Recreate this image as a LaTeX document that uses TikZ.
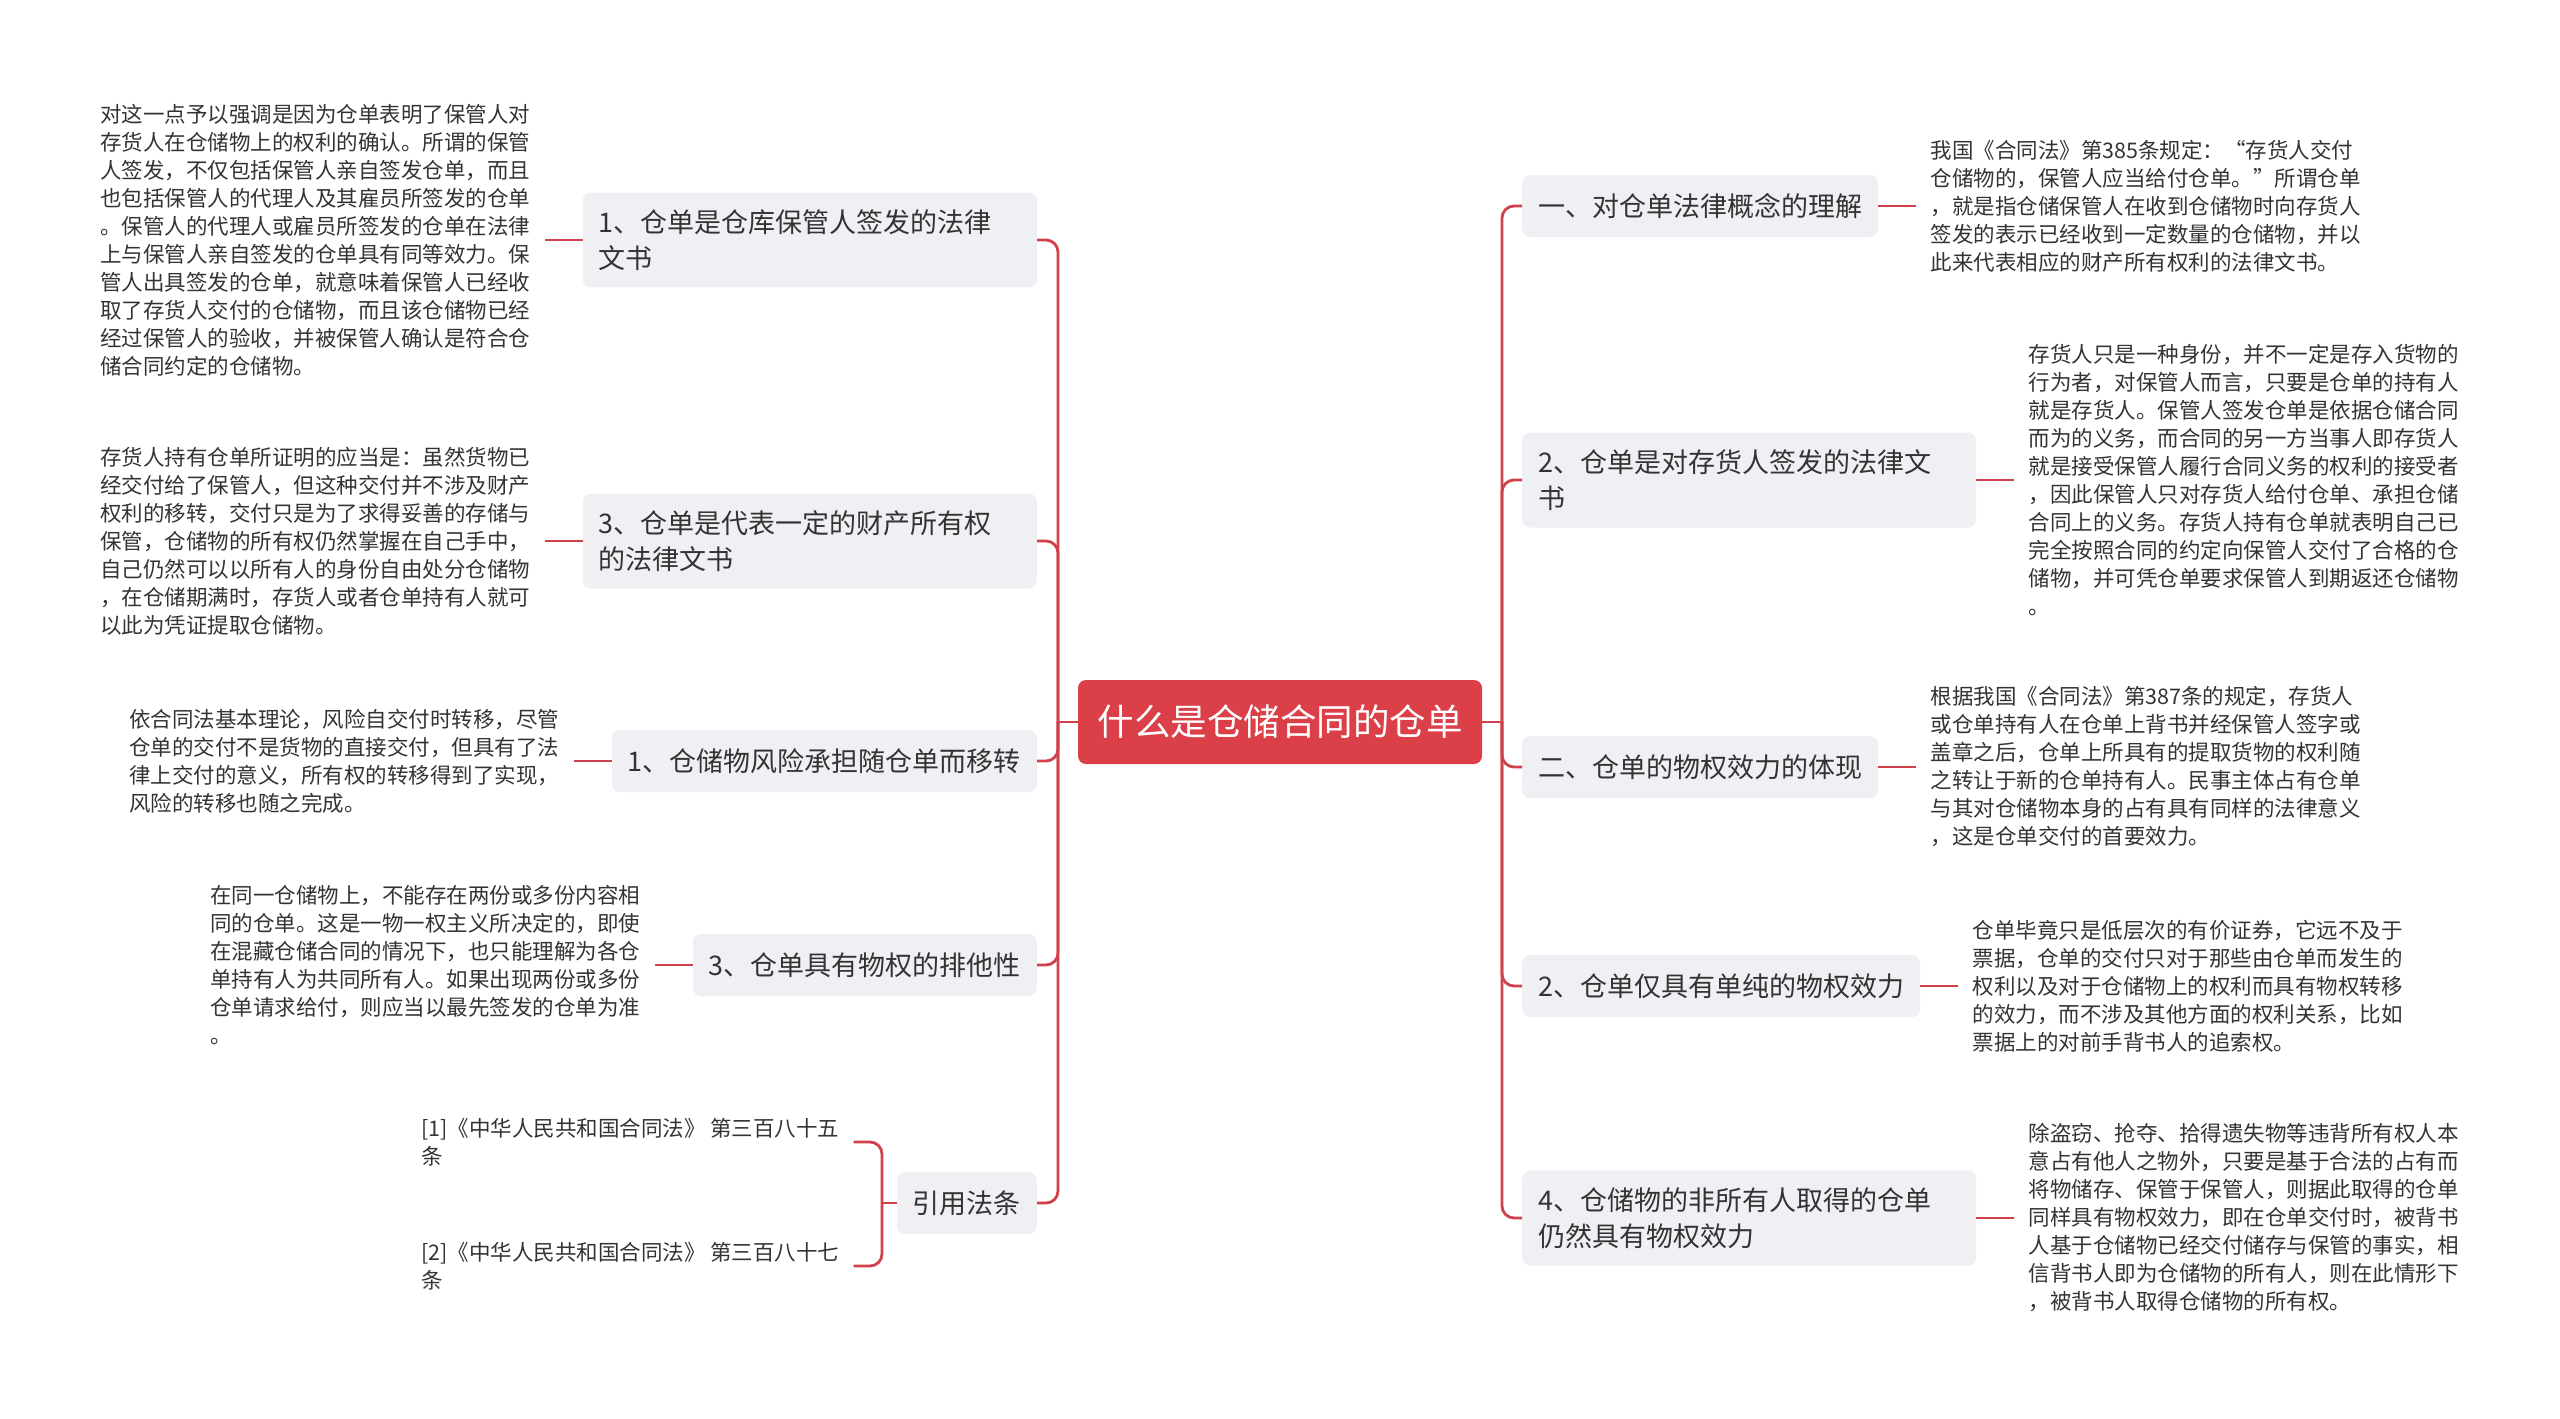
\documentclass[tikz,border=0pt]{standalone}
\usepackage{fontspec}
\newfontfamily\cjkfont{Noto Sans CJK SC}
\usepackage{tikz}
\usetikzlibrary{positioning}
\definecolor{mmred}{HTML}{DB3F48}
\definecolor{mmline}{HTML}{D0414B}
\definecolor{mmgray}{HTML}{EEF0F3}
\definecolor{mmtext}{HTML}{333333}

\begin{document}
\begin{tikzpicture}[
  x=1pt, y=-1pt,
  node distance=38pt,
  root/.style={
    rectangle, rounded corners=8pt, fill=mmred, text=white,
    minimum width=404pt, minimum height=84pt,
    font={\cjkfont\fontsize{36.5}{44}\selectfont}
  },
  branch/.style={
    rectangle, rounded corners=8pt, fill=mmgray, text=mmtext,
    inner xsep=16pt, inner ysep=17pt, minimum height=62pt,
    font={\cjkfont\fontsize{27}{36}\selectfont}, align=left
  },
  widebranch/.style={branch, text width=422pt},
  note/.style={
    text=mmtext, inner xsep=14pt, inner ysep=0pt,
    font={\cjkfont\fontsize{21.5}{28}\selectfont}, align=left
  },
  link/.style={draw=mmline, line width=2.8pt, rounded corners=12pt},
]
\useasboundingbox (0,0) rectangle (2560,1419);

% Root
\node[root] (root) at (1280,722) {什么是仓储合同的仓单};
\coordinate (ltrunk) at (1058,722);
\coordinate (rtrunk) at (1502,722);

% Left branches
\node[widebranch, anchor=east] (sign) at (1037,240) {1、仓单是仓库保管人签发的法律\\文书};
\node[widebranch, anchor=east] (property) at (1037,541) {3、仓单是代表一定的财产所有权\\的法律文书};
\node[branch, anchor=east] (risk) at (1037,761) {1、仓储物风险承担随仓单而移转};
\node[branch, anchor=east] (exclusive) at (1037,965) {3、仓单具有物权的排他性};
\node[branch, anchor=east] (cite) at (1037,1203) {引用法条};

% Right branches
\node[branch, anchor=west] (concept) at (1522,206) {一、对仓单法律概念的理解};
\node[widebranch, anchor=west] (holder) at (1522,480) {2、仓单是对存货人签发的法律文\\书};
\node[branch, anchor=west] (effect) at (1522,767) {二、仓单的物权效力的体现};
\node[branch, anchor=west] (pure) at (1522,986) {2、仓单仅具有单纯的物权效力};
\node[widebranch, anchor=west] (nonowner) at (1522,1218) {4、仓储物的非所有人取得的仓单\\仍然具有物权效力};

% Notes, left
\node[note, left=of sign] (signtxt) {对这一点予以强调是因为仓单表明了保管人对\\
存货人在仓储物上的权利的确认。所谓的保管\\
人签发，不仅包括保管人亲自签发仓单，而且\\
也包括保管人的代理人及其雇员所签发的仓单\\
。保管人的代理人或雇员所签发的仓单在法律\\
上与保管人亲自签发的仓单具有同等效力。保\\
管人出具签发的仓单，就意味着保管人已经收\\
取了存货人交付的仓储物，而且该仓储物已经\\
经过保管人的验收，并被保管人确认是符合仓\\
储合同约定的仓储物。};
\node[note, left=of property] (propertytxt) {存货人持有仓单所证明的应当是：虽然货物已\\
经交付给了保管人，但这种交付并不涉及财产\\
权利的移转，交付只是为了求得妥善的存储与\\
保管，仓储物的所有权仍然掌握在自己手中，\\
自己仍然可以以所有人的身份自由处分仓储物\\
，在仓储期满时，存货人或者仓单持有人就可\\
以此为凭证提取仓储物。};
\node[note, left=of risk] (risktxt) {依合同法基本理论，风险自交付时转移，尽管\\
仓单的交付不是货物的直接交付，但具有了法\\
律上交付的意义，所有权的转移得到了实现，\\
风险的转移也随之完成。};
\node[note, left=of exclusive] (exclusivetxt) {在同一仓储物上，不能存在两份或多份内容相\\
同的仓单。这是一物一权主义所决定的，即使\\
在混藏仓储合同的情况下，也只能理解为各仓\\
单持有人为共同所有人。如果出现两份或多份\\
仓单请求给付，则应当以最先签发的仓单为准\\
。};

% References
\coordinate (bracket) at (882,1203);
\node[note, anchor=west] (ref1) at (407,1142) {[1]《中华人民共和国合同法》 第三百八十五\\条};
\node[note, anchor=west] (ref2) at (407,1266) {[2]《中华人民共和国合同法》 第三百八十七\\条};

% Notes, right
\node[note, right=of concept] (concepttxt) {我国《合同法》第385条规定：“存货人交付\\
仓储物的，保管人应当给付仓单。”所谓仓单\\
，就是指仓储保管人在收到仓储物时向存货人\\
签发的表示已经收到一定数量的仓储物，并以\\
此来代表相应的财产所有权利的法律文书。};
\node[note, right=of holder] (holdertxt) {存货人只是一种身份，并不一定是存入货物的\\
行为者，对保管人而言，只要是仓单的持有人\\
就是存货人。保管人签发仓单是依据仓储合同\\
而为的义务，而合同的另一方当事人即存货人\\
就是接受保管人履行合同义务的权利的接受者\\
，因此保管人只对存货人给付仓单、承担仓储\\
合同上的义务。存货人持有仓单就表明自己已\\
完全按照合同的约定向保管人交付了合格的仓\\
储物，并可凭仓单要求保管人到期返还仓储物\\
。};
\node[note, right=of effect] (effecttxt) {根据我国《合同法》第387条的规定，存货人\\
或仓单持有人在仓单上背书并经保管人签字或\\
盖章之后，仓单上所具有的提取货物的权利随\\
之转让于新的仓单持有人。民事主体占有仓单\\
与其对仓储物本身的占有具有同样的法律意义\\
，这是仓单交付的首要效力。};
\node[note, right=of pure] (puretxt) {仓单毕竟只是低层次的有价证券，它远不及于\\
票据，仓单的交付只对于那些由仓单而发生的\\
权利以及对于仓储物上的权利而具有物权转移\\
的效力，而不涉及其他方面的权利关系，比如\\
票据上的对前手背书人的追索权。};
\node[note, right=of nonowner] (nonownertxt) {除盗窃、抢夺、拾得遗失物等违背所有权人本\\
意占有他人之物外，只要是基于合法的占有而\\
将物储存、保管于保管人，则据此取得的仓单\\
同样具有物权效力，即在仓单交付时，被背书\\
人基于仓储物已经交付储存与保管的事实，相\\
信背书人即为仓储物的所有人，则在此情形下\\
，被背书人取得仓储物的所有权。};

% Root to branches
\draw[link] (root.west) -- (ltrunk);
\draw[link] (root.east) -- (rtrunk);
\draw[link] (ltrunk) |- (sign.east);
\draw[link] (ltrunk) |- (property.east);
\draw[link] (ltrunk) |- (risk.east);
\draw[link] (ltrunk) |- (exclusive.east);
\draw[link] (ltrunk) |- (cite.east);
\draw[link] (rtrunk) |- (concept.west);
\draw[link] (rtrunk) |- (holder.west);
\draw[link] (rtrunk) |- (effect.west);
\draw[link] (rtrunk) |- (pure.west);
\draw[link] (rtrunk) |- (nonowner.west);

% Branches to notes
\draw[link] (sign.west) -- (signtxt.east);
\draw[link] (property.west) -- (propertytxt.east);
\draw[link] (risk.west) -- (risktxt.east);
\draw[link] (exclusive.west) -- (exclusivetxt.east);
\draw[link] (cite.west) -- (bracket);
\draw[link] (bracket) |- (ref1.east);
\draw[link] (bracket) |- (ref2.east);
\draw[link] (concept.east) -- (concepttxt.west);
\draw[link] (holder.east) -- (holdertxt.west);
\draw[link] (effect.east) -- (effecttxt.west);
\draw[link] (pure.east) -- (puretxt.west);
\draw[link] (nonowner.east) -- (nonownertxt.west);

\end{tikzpicture}
\end{document}
